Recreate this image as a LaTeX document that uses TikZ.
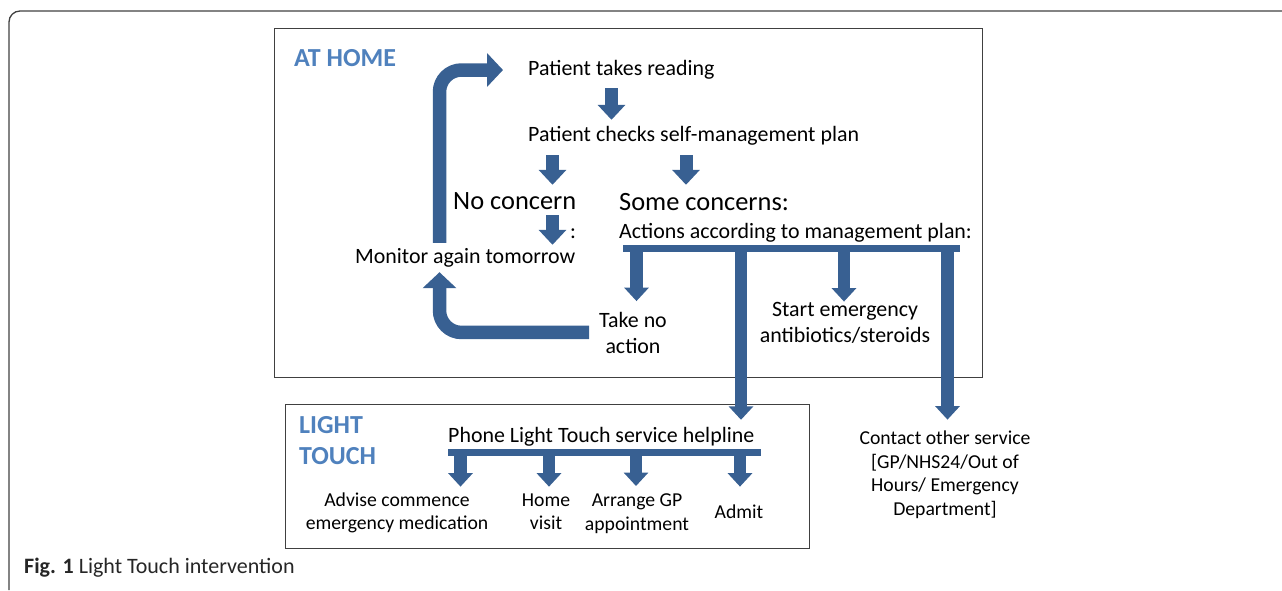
\documentclass[tikz,border=0pt]{standalone}
\usepackage{fontspec}
\setmainfont{Carlito}
\usetikzlibrary{arrows.meta}
\definecolor{arrowblue}{RGB}{56,96,146}
\definecolor{headblue}{RGB}{79,129,189}
\tikzset{
  txt/.style={inner sep=0pt, font=\fontsize{21.9}{26}\selectfont},
  oneline/.style={text height=15pt, text depth=5pt},
  big/.style={inner sep=0pt, font=\fontsize{26.4}{30}\selectfont, text height=18pt, text depth=6pt},
  sml/.style={inner sep=0pt, font=\fontsize{19.7}{23.5}\selectfont, align=center},
  hdr/.style={inner sep=0pt, font=\fontsize{26}{31}\selectfont\bfseries, text=headblue, align=left},
  boxline/.style={draw=black!75, line width=1pt},
  blk/.style={draw=arrowblue, line width=13pt, -{Triangle[width=27pt,length=15pt]}},
  blkb/.style={draw=arrowblue, line width=12.5pt, -{Triangle[width=24pt,length=13.5pt]}},
  turn/.style={draw=arrowblue, line width=13.5pt, rounded corners=22pt, -{Triangle[width=33pt,length=16pt]}},
  rail/.style={draw=arrowblue, line width=7pt},
}
\begin{document}
\begin{tikzpicture}[x=1pt,y=-1pt]
\useasboundingbox (0,0) rectangle (1282,590);
% frames
\draw[boxline, line width=1.3pt, rounded corners=11pt] (9,590) -- (9,11) -- (1282,11);
\draw[boxline] (274,28) rectangle (982,377);
\draw[boxline] (285,404) rectangle (809,548);

% at home
\node[hdr, anchor=base west] (athome) at (294,66) {AT HOME};
\node[txt, oneline, anchor=base west] (reading) at (528,75) {Patient takes reading};
\node[txt, oneline, anchor=base west] (checks) at (528,141) {Patient checks self-management plan};
\node[big, anchor=base west] (nocon) at (453,209) {No concern};
\node[big, anchor=base west] (somec) at (619,210) {Some concerns:};
\node[txt, oneline, anchor=base] (colon) at (573,238) {:};
\node[txt, oneline, anchor=base west] (actions) at (619,238) {Actions according to management plan:};
\node[txt, oneline, anchor=base west] (monitor) at (355,263) {Monitor again tomorrow};
% multi-line nodes: base = last line
\node[txt, align=center, anchor=base] (takeno) at (633,353) {Take no\\action};
\node[txt, align=center, anchor=base] (startab) at (845,342) {Start emergency\\antibiotics/steroids};

% light touch
\node[hdr, anchor=base west] (lthead) at (299,464) {LIGHT\\TOUCH};
\node[txt, oneline, anchor=base west] (phone) at (448,442) {Phone Light Touch service helpline};
\node[sml, anchor=base] (advise) at (397,529.5) {Advise commence\\emergency medication};
\node[sml, anchor=base] (homev) at (546,529.5) {Home\\visit};
\node[sml, anchor=base] (arrgp) at (637,530) {Arrange GP\\appointment};
\node[sml, anchor=base] (admit) at (739,518) {Admit};
\node[sml, anchor=base] (contact) at (945,515) {Contact other service\\{[}GP/NHS24/Out of\\Hours/ Emergency\\Department{]}};

\node[anchor=base west, inner sep=0pt, font=\fontsize{22}{26}\selectfont, text=black!85] (caption) at (24,573) {\textbf{Fig. 1} Light Touch intervention};

% arrows at home
\coordinate (ax1) at (611.5,0);
\coordinate (ax2) at (552.5,0);
\coordinate (ax3) at (686,0);
\coordinate (loopx) at (439.5,0);
\draw[blk, shorten <=8pt, shorten >=6pt] (reading.south -| ax1) -- (checks.north -| ax1);
\draw[blk, shorten <=9pt, shorten >=6pt] (checks.south -| ax2) -- (nocon.north -| ax2);
\draw[blk, shorten <=9pt, shorten >=7pt] (checks.south -| ax3) -- (somec.north -| ax3);
\draw[blk, shorten >=3pt] (nocon.south -| ax2) -- (monitor.north -| ax2);
\draw[turn, shorten <=5pt, shorten >=25pt] (monitor.north -| loopx) |- (reading.west);
\draw[turn, shorten <=10pt, shorten >=4pt] (takeno.west) -| (monitor.south -| loopx);

% actions bar
\coordinate (barA) at (623,248.5);
\coordinate (barB) at (960,248.5);
\coordinate (b1) at (636.5,248.5);
\coordinate (b2) at (741,248.5);
\coordinate (b3) at (844,248.5);
\coordinate (b4) at (947.5,248.5);
\draw[rail] (barA) -- (barB);
\draw[blkb, shorten >=10.5pt] (b1) -- (b1 |- takeno.north);
\draw[blkb, shorten >=7pt] (b2) -- (b2 |- phone.north);
\draw[blkb] (b3) -- (b3 |- startab.north);
\draw[blkb, shorten >=11pt] (b4) -- (b4 |- contact.north);

% light touch bar
\coordinate (ltA) at (448,452.7);
\coordinate (ltB) at (760.7,452.7);
\coordinate (c1) at (460.5,452.7);
\coordinate (c2) at (549,452.7);
\coordinate (c3) at (636,452.7);
\coordinate (c4) at (740,452.7);
\draw[rail, line width=6.7pt] (ltA) -- (ltB);
\draw[blkb, shorten >=5.5pt] (c1) -- (c1 |- advise.north);
\draw[blkb, shorten >=6.5pt] (c2) -- (c2 |- homev.north);
\draw[blkb, shorten >=7.5pt] (c3) -- (c3 |- arrgp.north);
\draw[blkb, shorten >=17.5pt] (c4) -- (c4 |- admit.north);
\end{tikzpicture}
\end{document}
